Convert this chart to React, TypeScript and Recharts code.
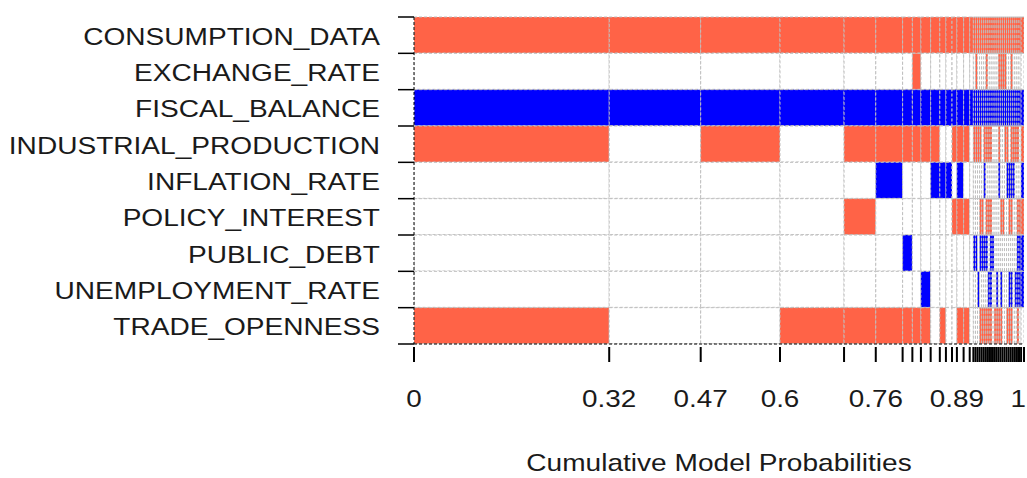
import React from 'react';
import { BarChart, Bar, XAxis, YAxis, Cell } from 'recharts';

// variables, top to bottom
const variables = [
  'CONSUMPTION_DATA',
  'EXCHANGE_RATE',
  'FISCAL_BALANCE',
  'INDUSTRIAL_PRODUCTION',
  'INFLATION_RATE',
  'POLICY_INTEREST',
  'PUBLIC_DEBT',
  'UNEMPLOYMENT_RATE',
  'TRADE_OPENNESS',
];

// posterior model probabilities (column widths), best model first
const modelProbs = [
  0.32, 0.15, 0.13, 0.105, 0.052, 0.044, 0.016, 0.014, 0.016, 0.015, 0.01, 0.01,
  0.008, 0.011, 0.01, 0.006,
  0.0034, 0.0034, 0.0034, 0.0034, 0.0034, 0.0034, 0.0034, 0.0034, 0.0034, 0.0034,
  0.0034, 0.0034, 0.0034, 0.0034, 0.0034, 0.0034, 0.0034, 0.0034, 0.0034, 0.0034,
  0.0034, 0.0034, 0.0034, 0.0048,
];

// sign of each variable in each model ('+' positive, '-' negative, '.' not included)
const modelSigns = [
  '+.-+....+', '+.-......', '+.-+.....', '+.-.....+', '+.-+.+..+', '+.-+-...+',
  '+.-+..-.+', '++-+....+', '+.-+...-+', '+.-+-....', '+.-.-...+', '+.-.-....',
  '+.-+.+...', '+.-+-+..+', '+.-+.+..+', '+.-......',
  '+.-+..-..', '++-+..-..', '+.-+...-.', '+.-+.+-.+', '+.-..+-.+', '+.-+-.-.+',
  '++-+.+-.+', '+.-+.+.-+', '+.-+.+--+', '+.-...-..', '+.-.....+', '+.-....-+',
  '++-+-...+', '++-..+.-+', '++-..+...', '++-+.....', '+.-+-...+', '+.-.-+.-+',
  '++-+-+.-+', '+.-+-....', '+.-+...-.', '+.-+.+--+', '+.-..+--.', '+.-+-+--.',
];

// which cumulative boundaries carry a number on the axis
const labelIdx = [0, 1, 2, 3, 5, 13, 40];

const POS = '#FF6347';
const NEG = '#0000FF';
const OFF = '#FFFFFF';
const GRID = '#BEBEBE';
const TEXT = '#1a1a1a';
const FONT = '"Liberation Sans", Arial, sans-serif';
const SX = 1.16;

const PLOT_LEFT = 414;
const PLOT_TOP = 17;
const PLOT_BOTTOM = 344;
const ROW_H = (PLOT_BOTTOM - PLOT_TOP) / variables.length;

const rows = variables.map((name) => {
  const row: any = { name };
  modelProbs.forEach((p, m) => {
    row['m' + m] = p;
  });
  return row;
});

const bounds: number[] = [0];
modelProbs.forEach((p) => bounds.push(bounds[bounds.length - 1] + p));

const colorOf = (s: string) => (s === '+' ? POS : s === '-' ? NEG : OFF);

const YTick = ({ y, payload, index }: any) => (
  <g>
    <text
      x={0}
      y={0}
      dy="0.36em"
      transform={`translate(380,${y + 1}) scale(1.17,1)`}
      textAnchor="end"
      fontSize={24}
      fontFamily={FONT}
      fill={TEXT}
    >
      {payload.value}
    </text>
    <line x1={PLOT_LEFT - 16} x2={PLOT_LEFT} y1={y - ROW_H / 2} y2={y - ROW_H / 2} stroke="#000" strokeWidth={1.5} />
    {index === variables.length - 1 && (
      <line x1={PLOT_LEFT - 16} x2={PLOT_LEFT} y1={y + ROW_H / 2} y2={y + ROW_H / 2} stroke="#000" strokeWidth={1.5} />
    )}
  </g>
);

const XTick = ({ x, payload }: any) => {
  const idx = bounds.findIndex((b) => Math.abs(b - payload.value) < 1e-9);
  const show = labelIdx.includes(idx);
  const last = idx === bounds.length - 1;
  return (
    <g>
      <line x1={x} x2={x} y1={PLOT_BOTTOM + 3} y2={PLOT_BOTTOM + 18} stroke="#000" strokeWidth={2} />
      {show && (
        <text
          x={0}
          y={0}
          transform={`translate(${last ? 1026 : x},407) scale(${SX},1)`}
          textAnchor={last ? 'end' : 'middle'}
          fontSize={24}
          fontFamily={FONT}
          fill={TEXT}
        >
          {String(Number(payload.value.toFixed(2)))}
        </text>
      )}
    </g>
  );
};

const XTitle = () => (
  <text
    x={0}
    y={0}
    transform={`translate(719,471) scale(1.17,1)`}
    textAnchor="middle"
    fontSize={24}
    fontFamily={FONT}
    fill={TEXT}
  >
    Cumulative Model Probabilities
  </text>
);

export default function App() {
  return (
    <div style={{ position: 'absolute', left: 0, top: 0, background: '#fff' }}>
      <BarChart
        layout="vertical"
        width={1027}
        height={478}
        data={rows}
        margin={{ top: PLOT_TOP, right: 3, bottom: 0, left: 0 }}
        barCategoryGap={0}
        barGap={0}
      >
        <XAxis
          type="number"
          domain={[0, 1]}
          ticks={bounds}
          interval={0}
          allowDataOverflow
          tick={<XTick />}
          tickLine={false}
          axisLine={{ stroke: '#000', strokeDasharray: '3 2' }}
          height={478 - PLOT_BOTTOM}
          label={{ content: () => <XTitle /> }}
        />
        <YAxis
          type="category"
          dataKey="name"
          width={PLOT_LEFT}
          interval={0}
          tick={<YTick />}
          tickLine={false}
          axisLine={{ stroke: '#000', strokeDasharray: '3 2' }}
        />
        {modelProbs.map((p, m) => (
          <Bar
            key={m}
            dataKey={'m' + m}
            stackId="s"
            isAnimationActive={false}
            stroke={GRID}
            strokeDasharray="3 2"
            strokeWidth={1}
          >
            {variables.map((v, i) => (
              <Cell key={v} fill={colorOf(modelSigns[m][i])} />
            ))}
          </Bar>
        ))}
      </BarChart>
    </div>
  );
}
